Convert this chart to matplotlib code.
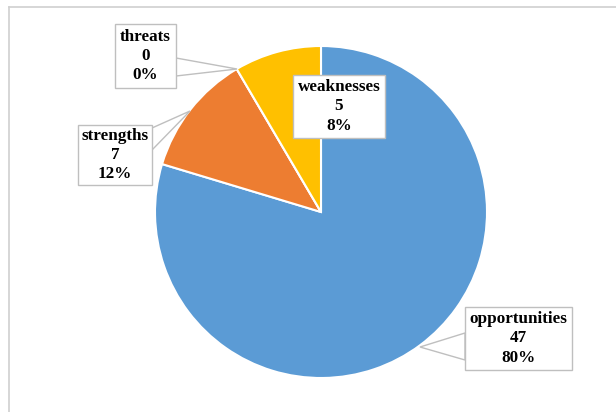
import matplotlib.pyplot as plt
from matplotlib.patches import Polygon

# data (clockwise from 12 o'clock)
categories = ['opportunities', 'strengths', 'threats', 'weaknesses']
counts = [47, 7, 0, 5]
percents = ['80%', '12%', '0%', '8%']
colors = ['#5B9BD5', '#ED7D31', '#A5A5A5', '#FFC000']

W, H = 616, 412
cx, cy, R = 321, 212, 166

# label boxes in pixel coords: (left, top, right, bottom), callout tip, callout base
boxes = {
    'threats': ((115, 24, 176, 88), (237, 69), ((176, 58), (176, 76))),
    'strengths': ((78, 125, 152, 185), (190, 111), ((152, 128), (152, 150))),
    'weaknesses': ((293, 75, 385, 138), None, None),
    'opportunities': ((465, 307, 572, 370), (420, 347), ((465, 333), (465, 360))),
}


def to_data(px, py):
    return (px - cx) / R, (cy - py) / R


fig = plt.figure(figsize=(W / 100, H / 100), dpi=100)
fig.patch.set_facecolor('white')

# outer frame (light grey)
fig.add_artist(plt.Line2D([9 / W, 9 / W], [0, 1 - 7 / H], transform=fig.transFigure,
                          color='#D0D0D0', lw=1.2))
fig.add_artist(plt.Line2D([9 / W, 1], [1 - 7 / H, 1 - 7 / H], transform=fig.transFigure,
                          color='#D0D0D0', lw=1.2))

ax = fig.add_axes([(cx - R) / W, (H - cy - R) / H, 2 * R / W, 2 * R / H])
ax.pie(counts, colors=colors, startangle=90, counterclock=False, radius=1,
       wedgeprops=dict(edgecolor='white', linewidth=1.5))
ax.set_xlim(-1, 1)
ax.set_ylim(-1, 1)
ax.set_aspect('equal')
ax.axis('off')

for cat, n, p in zip(categories, counts, percents):
    (l, t, r, b), tip, base = boxes[cat]
    if tip is not None:
        # callout wedge
        pts = [to_data(*base[0]), to_data(*tip), to_data(*base[1])]
        ax.add_patch(Polygon(pts, closed=True, facecolor='white', edgecolor='#BFBFBF',
                             lw=1.0, zorder=5, clip_on=False))
    x0, y0 = to_data(l, b)
    x1, y1 = to_data(r, t)
    ax.add_patch(plt.Rectangle((x0, y0), x1 - x0, y1 - y0, facecolor='white',
                               edgecolor='#BFBFBF', lw=1.0, zorder=6, clip_on=False))
    tx, ty = to_data((l + r) / 2, (t + b) / 2)
    ax.text(tx, ty, f'{cat}\n{n}\n{p}', ha='center', va='center', zorder=7,
            fontsize=12.3, fontweight='bold', family='Liberation Serif',
            linespacing=1.27, color='black')

fig.savefig('out.png', dpi=100)
